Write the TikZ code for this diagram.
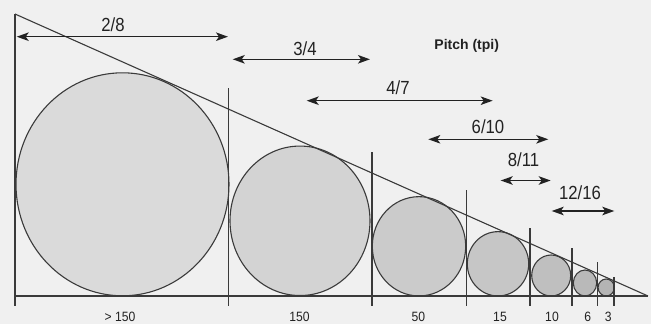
\documentclass[tikz,border=0pt]{standalone}
\usepackage{fontspec}
\setmainfont{Liberation Sans}
\usetikzlibrary{arrows.meta,shapes.geometric}
\definecolor{bgc}{HTML}{F0F0F0}
\definecolor{linec}{HTML}{3A3A3A}
\definecolor{arrc}{HTML}{222222}
\newcommand{\narrowtxt}[2]{\scalebox{#1}[1]{#2}}
\tikzset{
  wheel/.style={ellipse, draw=linec, line width=1.1pt, inner sep=0pt, outer sep=0pt},
  guide/.style={draw=linec, line width=1.1pt},
  dim/.style={draw=arrc, line width=1.5pt, {Stealth[length=12pt,width=8.5pt,inset=3pt]}-{Stealth[length=12pt,width=8.5pt,inset=3pt]}},
  toplbl/.style={inner sep=0pt, text=arrc, font=\fontsize{19}{19}\selectfont},
  botlbl/.style={inner sep=0pt, text=arrc, font=\fontsize{13.5}{13.5}\selectfont},
}
\begin{document}
\begin{tikzpicture}[x=1pt,y=-1pt]
\fill[bgc] (0,0) rectangle (651,324);
\useasboundingbox (0,0) rectangle (651,324);
% wheels
\node[wheel, fill={rgb,255:red,218;green,218;blue,218}, minimum width=213pt, minimum height=223pt] (c1) at (122.5,184.3) {};
\node[wheel, fill={rgb,255:red,211;green,211;blue,211}, minimum width=140pt, minimum height=149.5pt] (c2) at (300,220.8) {};
\node[wheel, fill={rgb,255:red,203;green,203;blue,203}, minimum width=93.4pt, minimum height=99.3pt] (c3) at (419,246.3) {};
\node[wheel, fill={rgb,255:red,198;green,198;blue,198}, minimum width=61.4pt, minimum height=64.3pt] (c4) at (498,263.8) {};
\node[wheel, fill={rgb,255:red,191;green,191;blue,191}, minimum width=39pt, minimum height=41pt] (c5) at (551.2,275.5) {};
\node[wheel, fill={rgb,255:red,185;green,185;blue,185}, minimum width=23.4pt, minimum height=26pt] (c6) at (585,283) {};
\node[wheel, fill={rgb,255:red,180;green,180;blue,180}, minimum width=16.3pt, minimum height=17pt] (c7) at (606.2,287.5) {};
% triangle
\coordinate (apex) at (15,14);
\coordinate (tip) at (648,296);
\coordinate (origin) at (15,296);
\coordinate (v1b) at (15,306);
\draw[guide] (apex) -- (v1b);
\draw[guide] (origin) -- (tip);
\draw[guide] (apex) -- (tip);
% vertical separators
\foreach \x/\t [count=\i] in {228.5/88, 372/152, 466.5/190, 530/228, 572/248, 597.5/262, 614/277}{
  \coordinate (s\i t) at (\x,\t);
  \coordinate (s\i b) at (\x,306);
  \draw[guide] (s\i t) -- (s\i b);
}
% dimension arrows
\coordinate (a1l) at (16.7,36.7);  \coordinate (a1r) at (228,36.7);
\coordinate (a2l) at (232.7,59.3); \coordinate (a2r) at (370,59.3);
\coordinate (a3l) at (306.7,100.7);\coordinate (a3r) at (492.7,100.7);
\coordinate (a4l) at (428.3,139.3);\coordinate (a4r) at (548.3,139.3);
\coordinate (a5l) at (500.7,180.5);\coordinate (a5r) at (550.7,180.5);
\coordinate (a6l) at (551.7,211);  \coordinate (a6r) at (614.3,211);
\draw[dim] (a1l) -- (a1r);
\draw[dim] (a2l) -- (a2r);
\draw[dim] (a3l) -- (a3r);
\draw[dim] (a4l) -- (a4r);
\draw[dim] (a5l) -- (a5r);
\draw[dim] (a6l) -- (a6r);
% top labels
\node[toplbl] (l1) at (113,25) {\narrowtxt{0.88}{2/8}};
\node[toplbl] (l2) at (305,48.3) {\narrowtxt{0.88}{3/4}};
\node[toplbl] (l3) at (398,88) {\narrowtxt{0.88}{4/7}};
\node[toplbl] (l4) at (488,126.7) {\narrowtxt{0.88}{6/10}};
\node[toplbl] (l5) at (523.5,160) {\narrowtxt{0.88}{8/11}};
\node[toplbl] (l6) at (580,193) {\narrowtxt{0.88}{12/16}};
\node[inner sep=0pt, text=arrc, font=\fontsize{14}{14}\selectfont\bfseries] (pitch) at (466.7,46) {Pitch (tpi)};
% bottom labels
\node[botlbl] (b1) at (120,316.5) {\narrowtxt{0.9}{>\hspace{4pt}150}};
\node[botlbl] (b2) at (299.5,316.5) {\narrowtxt{0.9}{150}};
\node[botlbl] (b3) at (418.3,316.5) {\narrowtxt{0.9}{50}};
\node[botlbl] (b4) at (500,316.5) {\narrowtxt{0.9}{15}};
\node[botlbl] (b5) at (552,316.5) {\narrowtxt{0.9}{10}};
\node[botlbl] (b6) at (587.7,316.5) {\narrowtxt{0.9}{6}};
\node[botlbl] (b7) at (608.3,316.5) {\narrowtxt{0.9}{3}};
\end{tikzpicture}
\end{document}
